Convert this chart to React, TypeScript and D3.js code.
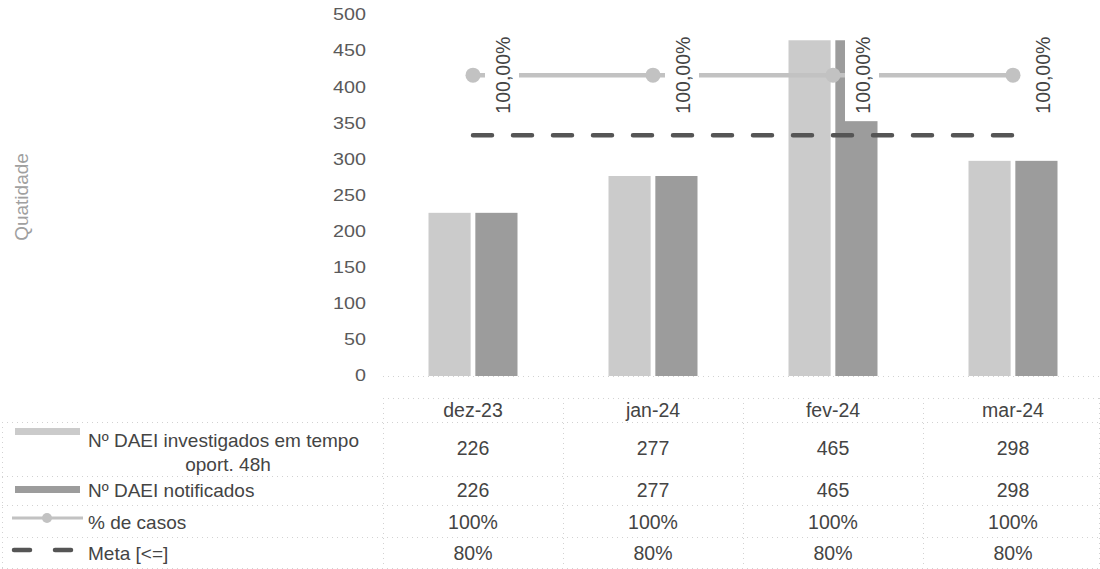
import React from "react";
import * as d3 from "d3";

const categories = ["dez-23", "jan-24", "fev-24", "mar-24"];
const investigados = [226, 277, 465, 298];
const notificados = [226, 277, 465, 298];
const pctCasos = [1, 1, 1, 1];
const meta = [0.8, 0.8, 0.8, 0.8];
const pctLabels = ["100,00%", "100,00%", "100,00%", "100,00%"];
const pctTable = ["100%", "100%", "100%", "100%"];
const metaTable = ["80%", "80%", "80%", "80%"];

const W = 1100;
const H = 569;
const FONT = "'Liberation Sans', Arial, sans-serif";

export default function App() {
  const x = d3.scaleBand<string>().domain(categories).range([383, 1103]).padding(0);
  const groupW = 89;
  const x1 = d3.scaleBand<number>().domain([0, 1]).range([0, groupW]).paddingInner(0.1);
  const y = d3.scaleLinear().domain([0, 500]).range([376, 15]);
  const y2 = d3.scaleLinear().domain([0, 1.2]).range([376, 15]);
  const cx = (c: string) => (x(c) as number) + x.bandwidth() / 2;

  const pctLine = d3.line<number>().x((_, i) => cx(categories[i])).y((d) => y2(d));
  const metaLine = d3.line<number>().x((_, i) => cx(categories[i])).y((d) => y2(d));

  const lightC = "#cbcbcb";
  const darkC = "#9c9c9c";
  const lineC = "#c2c2c2";
  const metaC = "#555555";
  const textC = "#444444";
  const gridC = "#d2d2d2";

  const rowLines = [422, 476, 505, 537, 568];
  const colLines = categories.map((c) => x(c) as number).concat([1099]);

  const baseH = 417;
  const rowBase = [455, 497, 529, 560];
  const seriesRows = [
    investigados.map(String),
    notificados.map(String),
    pctTable,
    metaTable,
  ];

  return (
    <svg
      width={W}
      height={H}
      style={{ position: "absolute", left: 0, top: 0, background: "#fff" }}
      fontFamily={FONT}
    >
      <rect x={0} y={0} width={W} height={H} fill="#fff" />
      {/* y title */}
      <text
        transform={`translate(21,197) rotate(-90)`}
        textAnchor="middle"
        dominantBaseline="central"
        fontSize={19}
        fill="#a0a0a0"
      >
        Quatidade
      </text>
      {/* y ticks */}
      {y.ticks(10).map((t) => (
        <text
          key={t}
          transform={`translate(366,${y(t)}) scale(1.25,1)`}
          textAnchor="end"
          dominantBaseline="central"
          fontSize={15.8}
          fill="#5a5a5a"
        >
          {t}
        </text>
      ))}
      {/* axis baseline */}
      <line x1={383} x2={1100} y1={376.5} y2={376.5} stroke={gridC} strokeDasharray="1,4" />
      {/* bars */}
      {categories.map((c, i) => {
        const x0 = cx(c) - groupW / 2;
        return (
          <g key={c}>
            <rect
              x={x0 + (x1(0) as number)}
              y={y(investigados[i])}
              width={x1.bandwidth()}
              height={y(0) - y(investigados[i])}
              fill={lightC}
            />
            <rect
              x={x0 + (x1(1) as number)}
              y={y(notificados[i])}
              width={x1.bandwidth()}
              height={y(0) - y(notificados[i])}
              fill={darkC}
            />
          </g>
        );
      })}
      {/* meta dashed line */}
      <path
        d={metaLine(meta) || ""}
        fill="none"
        stroke={metaC}
        strokeWidth={4.5}
        strokeDasharray="19,21"
        strokeLinecap="round"
      />
      {/* pct line */}
      <path d={pctLine(pctCasos) || ""} fill="none" stroke={lineC} strokeWidth={4.5} />
      {pctCasos.map((v, i) => (
        <circle key={i} cx={cx(categories[i])} cy={y2(v)} r={7.5} fill={lineC} />
      ))}
      {/* data labels */}
      {pctCasos.map((v, i) => {
        const px = cx(categories[i]);
        const py = y2(v);
        return (
          <g key={i}>
            <rect x={px + 12} y={py - 46} width={34} height={92} fill="#fff" />
            <text
              transform={`translate(${px + 30},${py}) rotate(-90)`}
              textAnchor="middle"
              dominantBaseline="central"
              fontSize={19.5}
              fill={textC}
            >
              {pctLabels[i]}
            </text>
          </g>
        );
      })}
      {/* table grid */}
      <line x1={383} x2={1100} y1={398.5} y2={398.5} stroke={gridC} strokeDasharray="1,4" />
      {rowLines.map((ry) => (
        <line key={ry} x1={2} x2={1100} y1={ry + 0.5} y2={ry + 0.5} stroke={gridC} strokeDasharray="1,4" />
      ))}
      {colLines.map((cxv, i) => (
        <line key={i} x1={cxv + 0.5} x2={cxv + 0.5} y1={398} y2={568} stroke={gridC} strokeDasharray="1,4" />
      ))}
      <line x1={2.5} x2={2.5} y1={422} y2={568} stroke={gridC} strokeDasharray="1,4" />
      {/* header */}
      {categories.map((c) => (
        <text key={c} x={cx(c)} y={baseH} textAnchor="middle" fontSize={19.5} fill={textC}>
          {c}
        </text>
      ))}
      {/* values */}
      {seriesRows.map((row, r) =>
        row.map((v, i) => (
          <text
            key={`${r}-${i}`}
            x={cx(categories[i])}
            y={rowBase[r]}
            textAnchor="middle"
            fontSize={19.5}
            fill={textC}
          >
            {v}
          </text>
        ))
      )}
      {/* row labels with legend keys */}
      <rect x={15} y={428} width={65} height={7} fill={lightC} />
      <text x={88} y={447} fontSize={19} fill={textC}>
        Nº DAEI investigados em tempo
      </text>
      <text x={228} y={471} textAnchor="middle" fontSize={19} fill={textC}>
        oport. 48h
      </text>
      <rect x={15} y={486} width={65} height={7} fill={darkC} />
      <text x={88} y={497} fontSize={19} fill={textC}>
        Nº DAEI notificados
      </text>
      <line x1={12} x2={83} y1={518} y2={518} stroke={lineC} strokeWidth={3} />
      <circle cx={47} cy={518} r={5} fill={lineC} />
      <text x={88} y={529} fontSize={19} fill={textC}>
        % de casos
      </text>
      <line x1={14} x2={30} y1={550} y2={550} stroke={metaC} strokeWidth={4.5} strokeLinecap="round" />
      <line x1={55} x2={71} y1={550} y2={550} stroke={metaC} strokeWidth={4.5} strokeLinecap="round" />
      <text x={88} y={560} fontSize={19} fill={textC}>
        Meta [&lt;=]
      </text>
    </svg>
  );
}
